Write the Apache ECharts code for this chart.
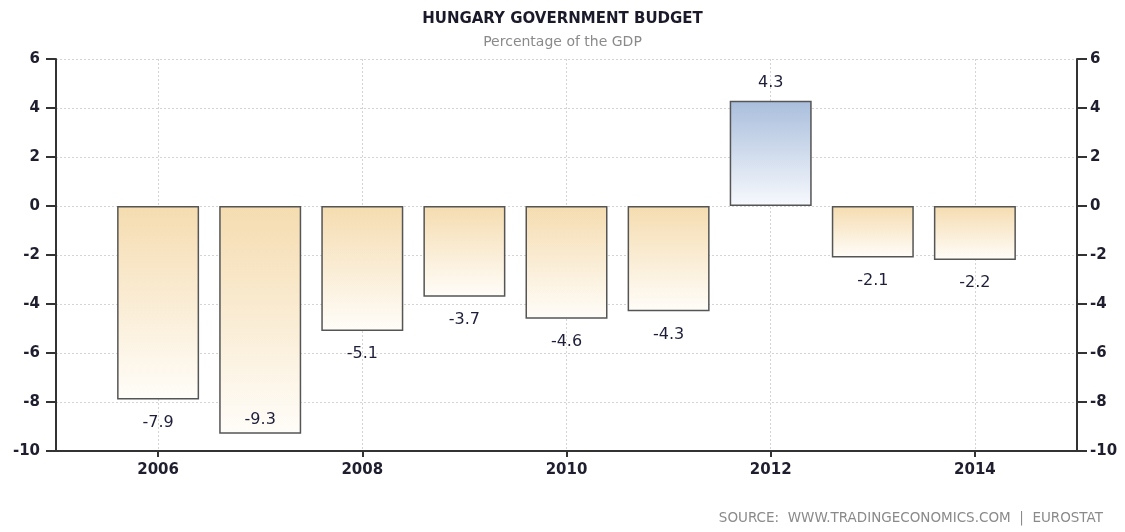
<!DOCTYPE html>
<html>
<head>
<meta charset="utf-8">
<script src="https://cdn.jsdelivr.net/npm/echarts@6/dist/echarts.min.js"></script>
<style>
  html, body { margin: 0; padding: 0; background: #fff; }
  #main { width: 1125px; height: 532px; }
</style>
</head>
<body>
<div id="main"></div>
<script>
// data
const years = [2006, 2007, 2008, 2009, 2010, 2011, 2012, 2013, 2014]
const budget = [-7.9, -9.3, -5.1, -3.7, -4.6, -4.3, 4.3, -2.1, -2.2]
const yearTicks = [2006, 2008, 2010, 2012, 2014]

const axisColor = '#333'
const labelFont = 'DejaVu Sans'

const negFill = new echarts.graphic.LinearGradient(0, 0, 0, 1, [
  {offset: 0, color: '#f5dcb0'},
  {offset: 1, color: '#fffdf9'}
])
const posFill = new echarts.graphic.LinearGradient(0, 0, 0, 1, [
  {offset: 0, color: '#a9bedc'},
  {offset: 1, color: '#f7f9fd'}
])

const barData = years.map((y, i) => {
  const v = budget[i]
  let label
  if (v >= 0) {
    label = {position: 'top', distance: 10}
  } else if (v < -9) {
    // no room below the deepest bar, label sits inside
    label = {position: 'insideBottom', distance: 6}
  } else {
    label = {position: 'bottom', distance: 15}
  }
  return {
    value: [y, v],
    itemStyle: {color: v >= 0 ? posFill : negFill},
    label: label
  }
})

const yAxisBase = {
  type: 'value',
  min: -10,
  max: 6,
  interval: 2,
  axisLine: {show: true, lineStyle: {color: axisColor, width: 2}},
  axisTick: {show: true, length: 10, lineStyle: {color: axisColor, width: 2}},
  axisLabel: {color: '#1e1e2e', fontFamily: labelFont, fontWeight: 'bold', fontSize: 15}
}

let option = {
  animation: false,
  title: {
    text: 'HUNGARY GOVERNMENT BUDGET',
    subtext: 'Percentage of the GDP',
    left: 'center',
    top: 7,
    itemGap: 8,
    textStyle: {color: '#1a1a2a', fontFamily: labelFont, fontWeight: 'bold', fontSize: 15},
    subtextStyle: {color: '#8a8a8a', fontFamily: labelFont, fontSize: 14}
  },
  grid: {left: 56, right: 48, top: 59, bottom: 81},
  xAxis: {
    type: 'value',
    min: 2005,
    max: 2015,
    axisLine: {onZero: false, lineStyle: {color: axisColor, width: 2}},
    axisTick: {show: true, length: 6, customValues: yearTicks, lineStyle: {color: axisColor, width: 2}},
    axisLabel: {
      customValues: yearTicks,
      margin: 12,
      color: '#1e1e2e',
      fontFamily: labelFont,
      fontWeight: 'bold',
      fontSize: 15,
      formatter: v => String(v)
    },
    splitLine: {show: true, lineStyle: {color: '#d4d4d4', type: [2, 2], width: 1}}
  },
  yAxis: [
    Object.assign({}, yAxisBase, {
      position: 'left',
      axisLabel: Object.assign({}, yAxisBase.axisLabel, {margin: 16}),
      splitLine: {show: true, lineStyle: {color: '#d4d4d4', type: [2, 2], width: 1}}
    }),
    Object.assign({}, yAxisBase, {
      position: 'right',
      axisLabel: Object.assign({}, yAxisBase.axisLabel, {margin: 13}),
      splitLine: {show: false}
    })
  ],
  series: [
    {
      type: 'bar',
      barWidth: 82,
      data: barData,
      itemStyle: {borderColor: '#555', borderWidth: 1.5},
      label: {
        show: true,
        color: '#1e1e3a',
        fontFamily: labelFont,
        fontSize: 16,
        formatter: p => p.value[1].toFixed(1)
      }
    }
  ],
  graphic: [
    {
      type: 'text',
      right: 22,
      top: 511,
      style: {
        text: 'SOURCE:  WWW.TRADINGECONOMICS.COM  |  EUROSTAT',
        fill: '#8a8a8a',
        font: '13.5px "DejaVu Sans"'
      }
    }
  ]
}

let myChart = echarts.init(document.getElementById('main'), null, {renderer: 'canvas'})
myChart.setOption(option)
</script>
</body>
</html>
